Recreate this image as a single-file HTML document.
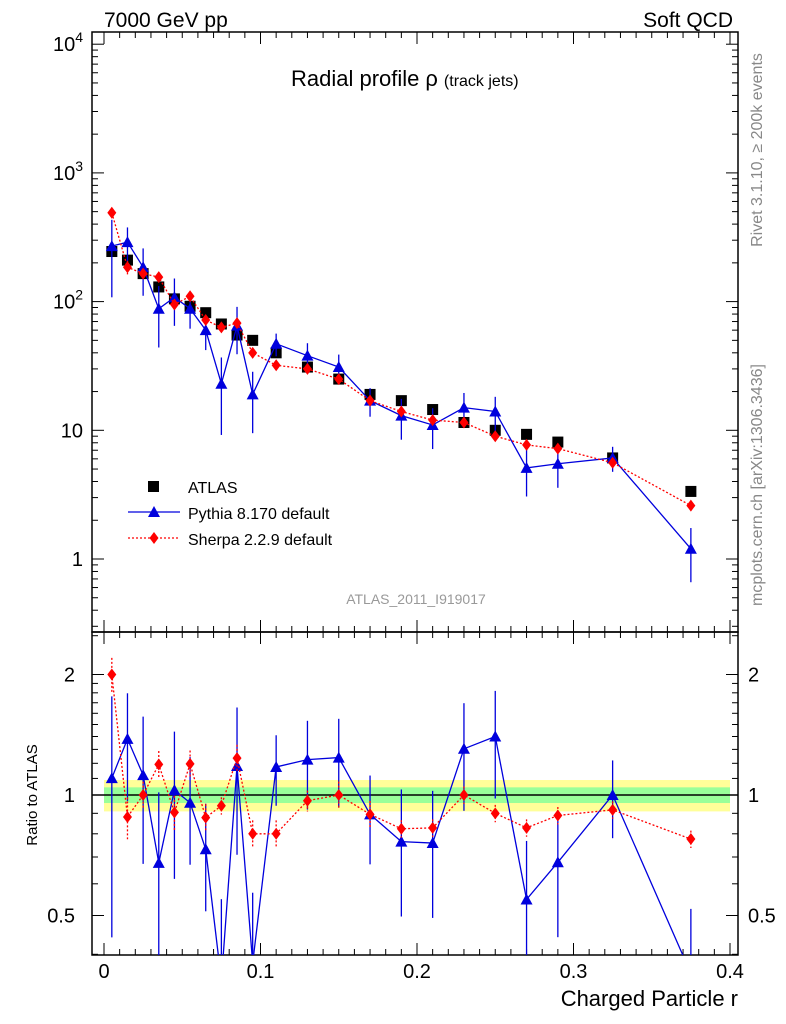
<!DOCTYPE html>
<html><head><meta charset="utf-8">
<style>
html,body{margin:0;padding:0;background:#fff;overflow:hidden;width:786px;height:1024px;}
svg{display:block;font-family:"Liberation Sans",sans-serif;}
</style></head>
<body>
<svg id="chart" width="786" height="1024" viewBox="0 0 786 1024" xmlns="http://www.w3.org/2000/svg" overflow="hidden"></svg>
<script>
const xCenters=[0.005,0.015,0.025,0.035,0.045,0.055,0.065,0.075,0.085,0.095,0.11,0.13,0.15,0.17,0.19,0.21,0.23,0.25,0.27,0.29,0.325,0.375];
const atlasVals=[245,210,165,130,105,92,82,67,55,50,40,31,25,19,17,14.5,11.5,10,9.3,8.1,6.1,3.35];
const pythiaVals=[270,290,185,88,108,88,60,23,65,19,47,38,31,17,13,11,15,14,5.1,5.5,6.1,1.2];
const pythiaErr=[0.6,0.3,0.4,0.5,0.4,0.3,0.3,0.6,0.4,0.5,0.2,0.25,0.25,0.25,0.35,0.35,0.3,0.3,0.4,0.35,0.22,0.45];
const sherpaVals=[490,185,165,155,95,110,72,63,68,40,32,30,25,17,14,12,11.5,9,7.7,7.2,5.6,2.6];
const sherpaErr=[0.1,0.12,0.08,0.08,0.1,0.08,0.08,0.05,0.08,0.08,0.08,0.06,0.08,0.08,0.05,0.05,0.05,0.05,0.05,0.05,0.05,0.05];
const xTicks=[0,0.1,0.2,0.3,0.4];
const mainTickLabels=["1","10","10^2","10^3","10^4"];

const NS="http://www.w3.org/2000/svg";
const svg=document.getElementById('chart');
function el(tag,attrs,parent){const e=document.createElementNS(NS,tag);for(const k in attrs)e.setAttribute(k,attrs[k]);(parent||svg).appendChild(e);return e;}
const L=92,R=738,T=32,M=632,B=955;
const X=v=>104+v*1565;
const Y=v=>559-Math.log10(v)*128.7;
const RY=v=>795-Math.log2(v)*120.5;

const g0=el('g',{});
el('rect',{x:X(0),y:RY(1.09),width:X(0.4)-X(0),height:RY(0.91)-RY(1.09),fill:'#ffff99'},g0);
el('rect',{x:X(0),y:RY(1.045),width:X(0.4)-X(0),height:RY(0.955)-RY(1.045),fill:'#99ff99'},g0);
el('line',{x1:L,x2:R,y1:RY(1),y2:RY(1),stroke:'#000','stroke-width':1.5},g0);

const f1=el('rect',{x:L,y:T,width:R-L,height:M-T,fill:'none',stroke:'#000','stroke-width':1.5});

const f2=el('rect',{x:L,y:M,width:R-L,height:B-M,fill:'none',stroke:'#000','stroke-width':1.5});


for(let i=0;i<=40;i++){const v=i*0.01,x=X(v);if(x<L||x>R)continue;const big=i%10==0;const h=big?12:6;
 el('line',{x1:x,x2:x,y1:M,y2:M-h,stroke:'#000'});el('line',{x1:x,x2:x,y1:T,y2:T+h,stroke:'#000'});
 el('line',{x1:x,x2:x,y1:B,y2:B-h,stroke:'#000'});el('line',{x1:x,x2:x,y1:M,y2:M+h,stroke:'#000'});}
xTicks.forEach(v=>{const t=el('text',{x:X(v),y:978,'text-anchor':'middle','font-size':20});t.textContent=String(v);
 });
for(let d=-1;d<=4;d++){for(let m=1;m<10;m++){const v=m*Math.pow(10,d),y=Y(v);if(y<T||y>M)continue;const h=m==1?12:6;
 el('line',{x1:L,x2:L+h,y1:y,y2:y,stroke:'#000'});el('line',{x1:R,x2:R-h,y1:y,y2:y,stroke:'#000'});}}
mainTickLabels.forEach((s,i)=>{const y=Y(Math.pow(10,i))+7;const t=el('text',{x:83,y:y,'text-anchor':'end','font-size':20});
 
 if(s.includes('^')){const [b,e]=s.split('^');t.textContent=b;const ts=el('tspan',{dy:-9,'font-size':14},t);ts.textContent=e;}else t.textContent=s;});
[0.4,0.5,0.6,0.7,0.8,0.9,1,1.1,1.2,1.3,1.4,1.5,1.6,1.7,1.8,1.9,2,2.5].forEach(v=>{const y=RY(v);if(y<M||y>B)return;const big=(v==0.5||v==1||v==2);const h=big?12:6;
 el('line',{x1:L,x2:L+h,y1:y,y2:y,stroke:'#000'});el('line',{x1:R,x2:R-h,y1:y,y2:y,stroke:'#000'});});
[[2,"2"],[1,"1"],[0.5,"0.5"]].forEach(([v,s])=>{const y=RY(v)+7;
 const a=el('text',{x:75,y:y,'text-anchor':'end','font-size':20});a.textContent=s;
 const b=el('text',{x:748,y:y,'font-size':20});b.textContent=s;});

const defs=el('defs',{});
const c1=el('clipPath',{id:'cm'},defs);el('rect',{x:L,y:T,width:R-L,height:M-T},c1);
const c2=el('clipPath',{id:'cr'},defs);el('rect',{x:L,y:M,width:R-L,height:B-M},c2);

function diamond(g,x,y,c){el('polygon',{points:`${x},${y-6} ${x+4.5},${y} ${x},${y+6} ${x-4.5},${y}`,fill:c},g);}
function tri(g,x,y,c){el('polygon',{points:`${x},${y-6} ${x+6},${y+5} ${x-6},${y+5}`,fill:c},g);}
function series(vals,errs,ref,col,dash,shape,Yf,clip,name){
 const g=el('g',{'clip-path':`url(#${clip})`});
 const v=vals.map((a,i)=>ref?a/ref[i]:a);
 el('polyline',{points:v.map((a,i)=>X(xCenters[i])+','+Yf(a)).join(' '),fill:'none',stroke:col,'stroke-width':1.3,'stroke-dasharray':dash},g);
 v.forEach((a,i)=>{const x=X(xCenters[i]);
  el('line',{x1:x,x2:x,y1:Yf(a*(1+errs[i])),y2:Math.min(Yf(Math.max(a*(1-errs[i]),1e-3)),B+5),stroke:col,'stroke-width':1.3,'stroke-dasharray':dash},g);
  shape(g,x,Yf(a),col);});
}
const ga=el('g',{});
atlasVals.forEach((a,i)=>el('rect',{x:X(xCenters[i])-5.5,y:Y(a)-5.5,width:11,height:11,fill:'#000'},ga));
series(pythiaVals,pythiaErr,null,'#0000dd','none',tri,Y,'cm','pythia-series');
series(sherpaVals,sherpaErr,null,'#ff0000','2,2',diamond,Y,'cm','sherpa-series');
series(pythiaVals,pythiaErr,atlasVals,'#0000dd','none',tri,RY,'cr','pythia-ratio-series');
series(sherpaVals,sherpaErr,atlasVals,'#ff0000','2,2',diamond,RY,'cr','sherpa-ratio-series');

const lg=el('g',{});
el('rect',{x:148,y:481,width:11,height:11,fill:'#000'},lg);
el('line',{x1:128,x2:180,y1:512,y2:512,stroke:'#0000dd','stroke-width':1.3},lg);tri(lg,154,512,'#0000dd');
el('line',{x1:128,x2:180,y1:538,y2:538,stroke:'#f00','stroke-width':1.3,'stroke-dasharray':'2,2'},lg);diamond(lg,154,538,'#f00');
[['ATLAS',493],['Pythia 8.170 default',519],['Sherpa 2.2.9 default',545]].forEach(([s,y])=>{const t=el('text',{x:188,y:y,'font-size':16},lg);t.textContent=s;});

function txt(s,attrs,name){const t=el('text',attrs);t.textContent=s;return t;}
txt('7000 GeV pp',{x:104,y:27,'font-size':21},'energy-label');
txt('Soft QCD',{x:733,y:27,'font-size':21,'text-anchor':'end'},'process-label');
const tt=txt('Radial profile',{x:291,y:86,'font-size':22},'plot-title');
const s1=el('tspan',{'font-size':22,dx:6},tt);s1.textContent='ρ';const s2=el('tspan',{'font-size':16,dx:6},tt);s2.textContent='(track jets)';
txt('ATLAS_2011_I919017',{x:416,y:604,'font-size':14,fill:'#999','text-anchor':'middle'},'analysis-id');
txt('Charged Particle r',{x:738,y:1006,'font-size':22,'text-anchor':'end'},'x-axis-title');
txt('Ratio to ATLAS',{x:0,y:0,'font-size':15,'text-anchor':'middle',transform:'translate(37,795) rotate(-90)'},'y-axis-title-ratio');
txt('Rivet 3.1.10, ≥ 200k events',{x:0,y:0,'font-size':16,fill:'#888','text-anchor':'middle',transform:'translate(762,150) rotate(-90)'},'rivet-label');
txt('mcplots.cern.ch [arXiv:1306.3436]',{x:0,y:0,'font-size':16,fill:'#888','text-anchor':'middle',transform:'translate(762,485) rotate(-90)'},'mcplots-label');
</script>
</body></html>
